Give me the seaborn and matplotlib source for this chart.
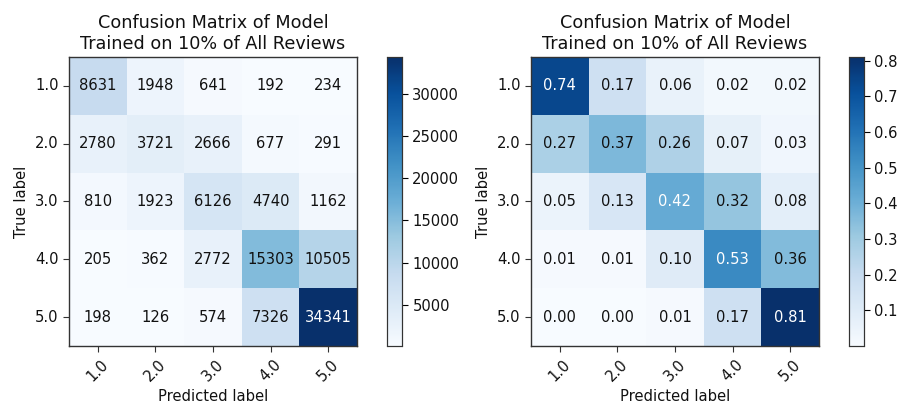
import numpy as np
import pandas as pd
import matplotlib
matplotlib.use("Agg")
import matplotlib.pyplot as plt
import seaborn as sns

labels = ["1.0", "2.0", "3.0", "4.0", "5.0"]
counts = [
    [8631, 1948, 641, 192, 234],
    [2780, 3721, 2666, 677, 291],
    [810, 1923, 6126, 4740, 1162],
    [205, 362, 2772, 15303, 10505],
    [198, 126, 574, 7326, 34341],
]
normalized = [
    [0.74, 0.17, 0.06, 0.02, 0.02],
    [0.27, 0.37, 0.26, 0.07, 0.03],
    [0.05, 0.13, 0.42, 0.32, 0.08],
    [0.01, 0.01, 0.10, 0.53, 0.36],
    [0.00, 0.00, 0.01, 0.17, 0.81],
]
title = "Confusion Matrix of Model\nTrained on 10% of All Reviews"

plt.rcParams['font.family'] = ['DejaVu Sans']
fig = plt.figure(figsize=(8.97, 4.05), dpi=100)
FS = 10.6

def draw(data, fmt, ax_rect, cb_rect, cb_ticks):
    ax = fig.add_axes(ax_rect)
    cax = fig.add_axes(cb_rect)
    df = pd.DataFrame(np.array(data), index=labels, columns=labels)
    sns.heatmap(df, ax=ax, cbar_ax=cax, cmap="Blues", annot=True, fmt=fmt,
                annot_kws={"fontsize": FS}, square=False)
    arr = np.array(data, dtype=float)
    thresh = arr.max() / 2.0
    for t, v in zip(ax.texts, arr.flatten()):
        t.set_color("white" if v > thresh else "#111111")
    for s in ax.spines.values():
        s.set_visible(True)
        s.set_color("#333333")
        s.set_linewidth(1.0)
    ax.set_title(title, fontsize=12.7, color="#111111")
    ax.set_xlabel("Predicted label", fontsize=FS, color="#111111")
    ax.set_ylabel("True label", fontsize=FS, color="#111111")
    ax.tick_params(axis="both", length=4, width=0.8, labelsize=FS, color="#333333",
                   labelcolor="#111111")
    ax.set_xticklabels(labels, rotation=45, ha="center", rotation_mode="default")
    ax.set_yticklabels(labels, rotation=0, va="center")
    cax.set_yticks(cb_ticks)
    cax.tick_params(length=4, width=0.8, labelsize=FS, labelcolor="#111111")
    for s in cax.spines.values():
        s.set_visible(True)
        s.set_color("#333333")
        s.set_linewidth(0.8)
    return ax

draw(counts, "d", [0.0769, 0.1457, 0.321, 0.7136], [0.4314, 0.1457, 0.0167, 0.7136],
     [5000, 10000, 15000, 20000, 25000, 30000])
draw(normalized, ".2f", [0.592, 0.1457, 0.321, 0.7136], [0.9465, 0.1457, 0.0167, 0.7136],
     [0.1, 0.2, 0.3, 0.4, 0.5, 0.6, 0.7, 0.8])

fig.savefig("out.png", dpi=100)
